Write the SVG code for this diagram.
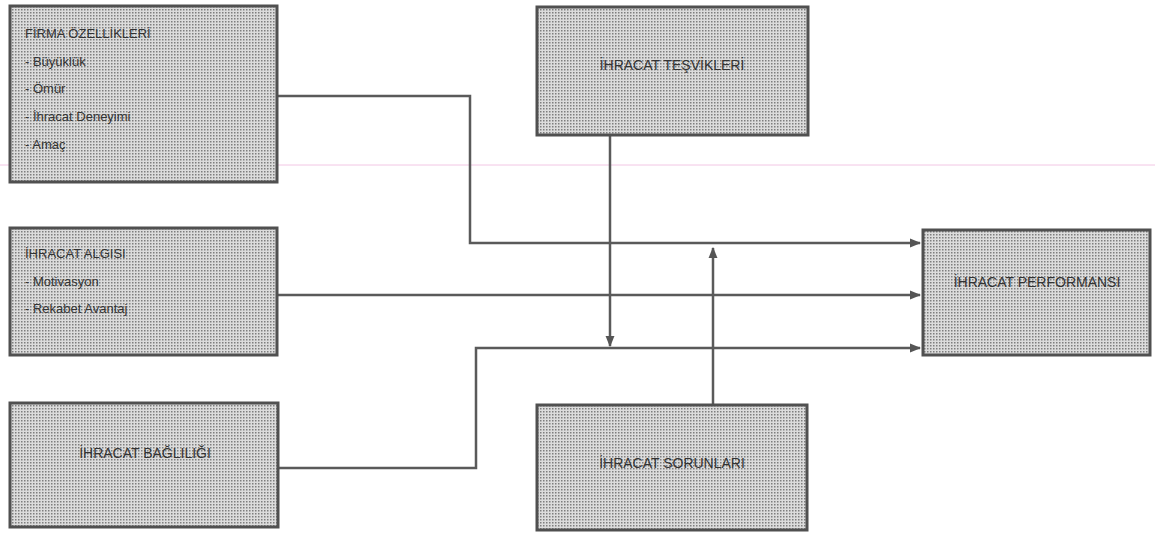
<svg xmlns="http://www.w3.org/2000/svg" width="1155" height="539" viewBox="0 0 1155 539">
<defs>
<pattern id="dots" width="3" height="3" patternUnits="userSpaceOnUse">
<rect width="3" height="3" fill="#dcdcdc"/>
<rect x="0" y="0" width="1.5" height="1.5" fill="#7e7e7e"/>
</pattern>
<marker id="arr" viewBox="0 0 10 10" refX="9" refY="5" markerWidth="4.5" markerHeight="4.5" orient="auto" markerUnits="strokeWidth">
<path d="M0,1 L10,5 L0,9 Z" fill="#555"/>
</marker>
</defs>
<style>
.box{fill:url(#dots);stroke:#505050;stroke-width:3}
.t{font-family:"Liberation Sans",Arial,sans-serif;font-size:13px;fill:#333}
.h{font-size:14px}
.c{text-anchor:middle}
.ln{fill:none;stroke:#5a5a5a;stroke-width:2.5;marker-end:url(#arr)}
</style>
<rect width="1155" height="539" fill="#ffffff"/>
<line x1="0" y1="165" x2="1155" y2="165" stroke="#f2c6e4" stroke-width="1"/>
<g id="connectors">
<polyline class="ln" points="277,96 470,96 470,243 920,243"/>
<polyline class="ln" points="277,295 920,295"/>
<polyline class="ln" points="278,468 476,468 476,348 920,348"/>
<polyline class="ln" points="610,135 610,346"/>
<polyline class="ln" points="713,405 713,248"/>
</g>
<g id="firma">
<rect class="box" x="10" y="6" width="267" height="176"/>
<text class="t" x="25" y="38">FİRMA ÖZELLİKLERİ</text>
<text class="t" x="25" y="66">- Büyüklük</text>
<text class="t" x="25" y="93">- Ömür</text>
<text class="t" x="25" y="121">- İhracat Deneyimi</text>
<text class="t" x="25" y="149">- Amaç</text>
</g>
<g id="algisi">
<rect class="box" x="10" y="228" width="267" height="127"/>
<text class="t" x="25" y="258">İHRACAT ALGISI</text>
<text class="t" x="25" y="286">- Motivasyon</text>
<text class="t" x="25" y="313">- Rekabet Avantaj</text>
</g>
<g id="bagliligi">
<rect class="box" x="10" y="403" width="268" height="124"/>
<text class="t h c" x="145" y="458">İHRACAT BAĞLILIĞI</text>
</g>
<g id="tesvikleri">
<rect class="box" x="537" y="7" width="271" height="128"/>
<text class="t h c" x="672" y="70">İHRACAT TEŞVİKLERİ</text>
</g>
<g id="sorunlari">
<rect class="box" x="537" y="405" width="270" height="125"/>
<text class="t h c" x="672" y="468">İHRACAT SORUNLARI</text>
</g>
<g id="performansi">
<rect class="box" x="923" y="230" width="227" height="125"/>
<text class="t h c" x="1037" y="287">İHRACAT PERFORMANSI</text>
</g>
</svg>
